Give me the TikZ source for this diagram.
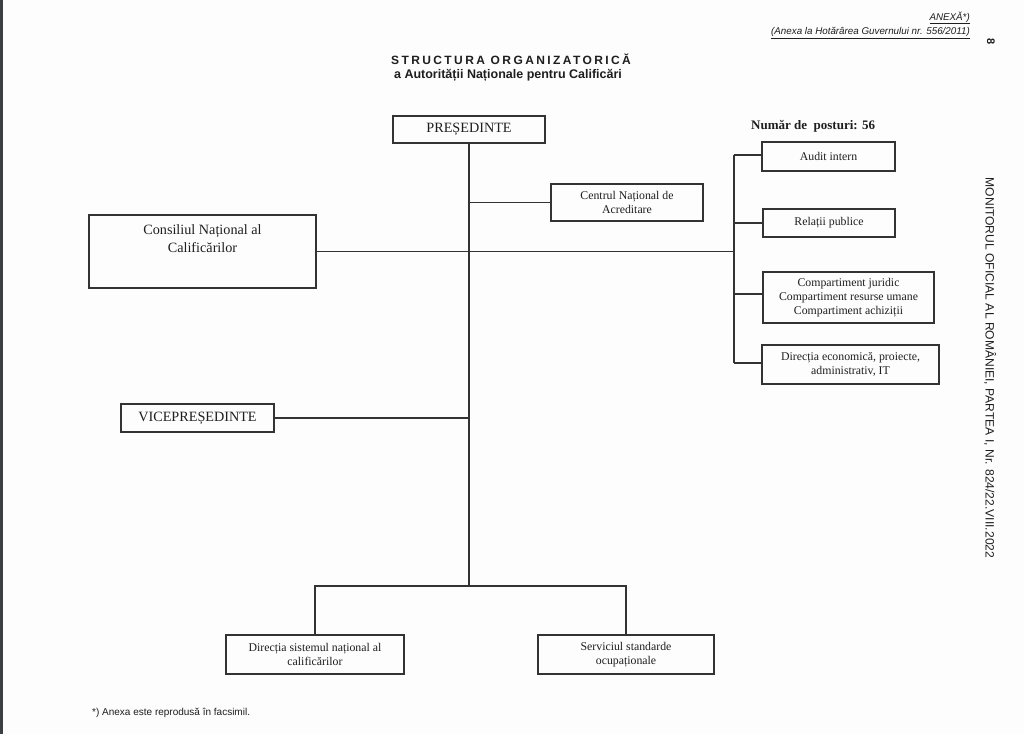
\documentclass[tikz,border=0pt]{standalone}
\usepackage{fontspec}
\setmainfont{Liberation Serif}
\setsansfont{Liberation Sans}
\newfontfamily\titlefont[LetterSpace=20]{Liberation Sans}
\begin{document}
\begin{tikzpicture}[x=1pt,y=-1pt,
  box/.style={draw=linec,line width=1.2pt,inner sep=1pt,align=center,text=txtc,
    font=\fontsize{11.8}{14}\selectfont},
  bigbox/.style={box,font=\fontsize{14.2}{18}\selectfont},
  conn/.style={draw=linec,line width=1.1pt},
  txt/.style={text=txtc,inner sep=0pt}]
\definecolor{linec}{HTML}{333333}
\definecolor{txtc}{HTML}{1E1E1E}
\definecolor{bgc}{HTML}{FDFDFD}
\definecolor{edgec}{HTML}{3C4043}
\useasboundingbox (0,0) rectangle (1024,734);
\fill[bgc] (0,0) rectangle (1024,734);
\fill[edgec] (0,0) rectangle (3,734);

% header texts
\node[txt,anchor=east,font=\sffamily\itshape\fontsize{9.8}{11}\selectfont] (anexa) at (970,18) {\underline{ANEXĂ*)}};
\node[txt,anchor=east,font=\sffamily\itshape\fontsize{9.8}{11}\selectfont] (hg) at (970,33) {\underline{(Anexa la Hotărârea Guvernului nr. 556/2011)}};
\node[txt,rotate=-90,font=\sffamily\bfseries\fontsize{11}{12}\selectfont] (pg) at (991,42) {8};
\node[txt,rotate=-90,font=\sffamily\fontsize{12.1}{14}\selectfont] (mo) at (990,368) {MONITORUL OFICIAL AL ROMÂNIEI, PARTEA I, Nr. 824/22.VIII.2022};
\node[txt,font=\titlefont\bfseries\fontsize{12}{14}\selectfont] (title) at (511,59) {STRUCTURA ORGANIZATORICĂ};
\node[txt,font=\sffamily\bfseries\fontsize{12.5}{14}\selectfont] (subtitle) at (508,75) {a Autorității Naționale pentru Calificări};
\node[txt,anchor=west,font=\bfseries\fontsize{13}{15}\selectfont] (nr) at (751,126) {Număr de \ posturi: 56};
\node[txt,anchor=west,font=\sffamily\fontsize{10}{12}\selectfont] (foot) at (92,713) {*) Anexa este reprodusă în facsimil.};

% boxes
\node[bigbox,minimum width=152pt,minimum height=27pt] (pres) at (469,129.5) {PREȘEDINTE};
\node[box,minimum width=152pt,minimum height=37pt] (cna) at (627,202.5) {Centrul Național de\\Acreditare};
\node[bigbox,minimum width=227pt,minimum height=73pt] (cnc) at (202.5,251.5) {};
\node[txt,anchor=north,align=center,font=\fontsize{14.2}{18}\selectfont] (cnct) at ([yshift=-10pt]cnc.north) {Consiliul Național al\\Calificărilor};
\node[box,minimum width=133pt,minimum height=29pt] (audit) at (828.5,156.5) {Audit intern};
\node[box,minimum width=132pt,minimum height=28pt] (rel) at (829,223) {Relații publice};
\node[box,minimum width=171pt,minimum height=51pt,font=\fontsize{11.8}{14}\selectfont] (comp) at (848.5,297.5) {Compartiment juridic\\Compartiment resurse umane\\Compartiment achiziții};
\node[box,minimum width=177pt,minimum height=39pt] (dec) at (850.5,364.5) {Direcția economică, proiecte,\\administrativ, IT};
\node[bigbox,minimum width=153pt,minimum height=28pt] (vice) at (197.5,418) {VICEPREȘEDINTE};
\node[box,minimum width=178pt,minimum height=39pt] (dsn) at (315,654.5) {Direcția sistemul național al\\calificărilor};
\node[box,minimum width=176pt,minimum height=39pt] (sso) at (626,654.5) {Serviciul standarde\\ocupaționale};

% connectors
\coordinate (jb) at (469,586);
\coordinate (rt) at (734,155);
\coordinate (rb) at (734,363);
\draw[conn] (pres.south) -- (jb);
\draw[conn] (pres.south |- cna.west) -- (cna.west);
\draw[conn] (cnc.east) -- (rt |- cnc.east);
\draw[conn] (rt) -- (rb);
\draw[conn] (rt) -- (rt -| audit.west);
\draw[conn] (rt |- rel.west) -- (rel.west);
\draw[conn] (734,294) -- (734,294 -| comp.west);
\draw[conn] (rb) -- (rb -| dec.west);
\draw[conn] (vice.east) -- (pres.south |- vice.east);
\draw[conn] (dsn.north) |- (jb) -| (sso.north);
\end{tikzpicture}
\end{document}
